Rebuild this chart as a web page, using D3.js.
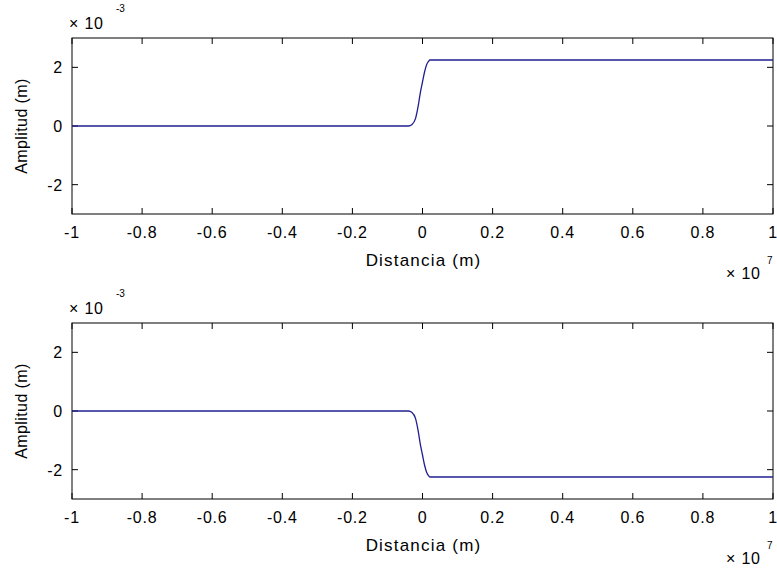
<!DOCTYPE html>
<html>
<head>
<meta charset="utf-8">
<script src="https://cdn.jsdelivr.net/npm/d3@7"></script>
<style>
  body { margin: 0; background: #fff; }
  text { font-family: "Liberation Sans", Arial, sans-serif; fill: #000; }
</style>
</head>
<body>
<div id="chart"></div>
<script>
// x in units of 1e7 m, y in units of 1e-3 m
const xTicks = [-1, -0.8, -0.6, -0.4, -0.2, 0, 0.2, 0.4, 0.6, 0.8, 1];
const yTicks = [-2, 0, 2];

const topX = [-1, -0.04, -0.03, -0.02, -0.012, -0.006, 0, 0.006, 0.012, 0.017, 0.021, 1];
const topY = [0, 0, 0.05, 0.25, 0.7, 1.15, 1.5, 1.85, 2.1, 2.2, 2.25, 2.25];

const botX = [-1, -0.04, -0.03, -0.02, -0.012, -0.006, 0, 0.006, 0.012, 0.017, 0.021, 1];
const botY = [0, 0, -0.05, -0.25, -0.7, -1.15, -1.5, -1.85, -2.1, -2.2, -2.25, -2.25];

const W = 777, H = 571;
const svg = d3.select("#chart").append("svg")
  .attr("width", W).attr("height", H);

const panels = [
  {top: 38, xs: topX, ys: topY},
  {top: 323, xs: botX, ys: botY}
];
const left = 72, right = 773, ph = 176;

const x = d3.scaleLinear().domain([-1, 1]).range([left, right]);

const fmt = v => (v < 0 ? "-" : "") + String(Math.abs(v));

panels.forEach(p => {
  const y = d3.scaleLinear().domain([-3, 3]).range([p.top + ph, p.top]);
  const g = svg.append("g");

  // box
  g.append("rect")
    .attr("x", left).attr("y", p.top)
    .attr("width", right - left).attr("height", ph)
    .attr("fill", "none").attr("stroke", "#000").attr("stroke-width", 1);

  const tl = 6;
  // x ticks (bottom and top, inward)
  xTicks.forEach(t => {
    g.append("line").attr("x1", x(t)).attr("x2", x(t))
      .attr("y1", p.top + ph).attr("y2", p.top + ph - tl).attr("stroke", "#000");
    g.append("line").attr("x1", x(t)).attr("x2", x(t))
      .attr("y1", p.top).attr("y2", p.top + tl).attr("stroke", "#000");
    g.append("text")
      .attr("x", x(t)).attr("y", p.top + ph + 24)
      .attr("text-anchor", "middle").attr("font-size", 16)
      .attr("letter-spacing", 0.8)
      .text(fmt(t));
  });
  // y ticks (left and right, inward)
  yTicks.forEach(t => {
    g.append("line").attr("x1", left).attr("x2", left + tl)
      .attr("y1", y(t)).attr("y2", y(t)).attr("stroke", "#000");
    g.append("line").attr("x1", right).attr("x2", right - tl)
      .attr("y1", y(t)).attr("y2", y(t)).attr("stroke", "#000");
    g.append("text")
      .attr("x", left - 9).attr("y", y(t) + 6)
      .attr("text-anchor", "end").attr("font-size", 16)
      .attr("letter-spacing", 0.8)
      .text(fmt(t));
  });

  // data line
  const pts = p.xs.map((v, i) => [v, p.ys[i]]);
  g.append("path")
    .datum(pts)
    .attr("fill", "none")
    .attr("stroke", "#1f1f8f")
    .attr("stroke-width", 1.3)
    .attr("d", d3.line().x(d => x(d[0])).y(d => y(d[1])).curve(d3.curveMonotoneX));

  // labels
  g.append("text")
    .attr("x", (left + right) / 2 + 1).attr("y", p.top + ph + 52)
    .attr("text-anchor", "middle").attr("font-size", 17)
    .attr("letter-spacing", 1.2)
    .text("Distancia (m)");
  g.append("text")
    .attr("transform", `translate(27,${p.top + ph / 2}) rotate(-90)`)
    .attr("text-anchor", "middle").attr("font-size", 16)
    .attr("letter-spacing", 0.4)
    .text("Amplitud (m)");

  // y exponent
  g.append("text").attr("x", 69).attr("y", p.top - 9).attr("font-size", 16)
    .attr("letter-spacing", 0.8).text("\u00d7 10");
  g.append("text").attr("x", 116).attr("y", p.top - 26).attr("font-size", 10)
    .text("-3");

  // x exponent
  g.append("text").attr("x", 726).attr("y", p.top + ph + 65).attr("font-size", 16)
    .attr("letter-spacing", 0.8).text("\u00d7 10");
  g.append("text").attr("x", 767).attr("y", p.top + ph + 50).attr("font-size", 10)
    .text("7");
});
</script>
</body>
</html>
